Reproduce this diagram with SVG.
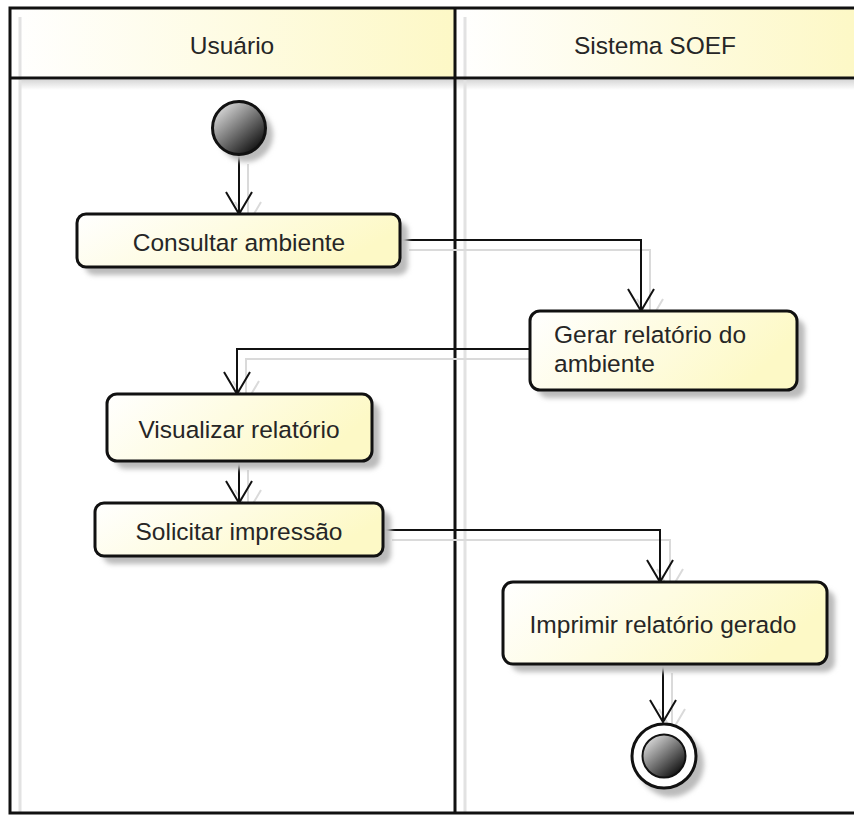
<svg xmlns="http://www.w3.org/2000/svg" width="854" height="818" viewBox="0 0 854 818">
<style>
.lbl{font-family:"Liberation Sans",Arial,sans-serif;font-size:24.5px;fill:#262626}
.box{stroke:#111;stroke-width:3;fill:url(#boxg)}
.shadow{fill:#bbb;filter:url(#blur)}
.edge{fill:none;stroke:#111;stroke-width:2;marker-end:url(#arr)}
.edgesh{fill:none;stroke:#dadada;stroke-width:2;marker-end:url(#arrsh)}
.frame{stroke:#111;stroke-width:3;fill:none}
.lanesh{stroke:#e2e2e2;stroke-width:3;fill:none}
</style>
<defs>
<linearGradient id="boxg" x1="0" y1="0" x2="1" y2="0.3">
<stop offset="0" stop-color="#ffffff"/>
<stop offset="1" stop-color="#fdf9c6"/>
</linearGradient>
<linearGradient id="hdg" x1="0" y1="0" x2="1" y2="0">
<stop offset="0" stop-color="#ffffff"/>
<stop offset="1" stop-color="#fdf8c6"/>
</linearGradient>
<linearGradient id="hsh" x1="0" y1="0" x2="0" y2="1">
<stop offset="0" stop-color="#d8d8d8"/>
<stop offset="1" stop-color="#ffffff"/>
</linearGradient>
<linearGradient id="ball" x1="0.15" y1="0.1" x2="0.85" y2="0.9">
<stop offset="0" stop-color="#d8d8d8"/>
<stop offset="1" stop-color="#111111"/>
</linearGradient>
<filter id="blur" x="-20%" y="-20%" width="140%" height="140%">
<feGaussianBlur stdDeviation="2.5"/>
</filter>
<marker id="arr" viewBox="-25 -15 28 30" markerWidth="28" markerHeight="30" refX="0" refY="0" orient="auto" markerUnits="userSpaceOnUse">
<path d="M-22,-13 L0,0 L-22,13" fill="none" stroke="#111" stroke-width="2"/>
</marker>
<marker id="arrsh" viewBox="-25 -15 28 30" markerWidth="28" markerHeight="30" refX="0" refY="0" orient="auto" markerUnits="userSpaceOnUse">
<path d="M-22,-13 L0,0 L-22,13" fill="none" stroke="#dadada" stroke-width="2"/>
</marker>
</defs>
<rect x="0" y="0" width="854" height="818" fill="#ffffff"/>

<g id="lanes">
<rect x="10" y="8" width="445" height="70" fill="url(#hdg)"/>
<rect x="455" y="8" width="400" height="70" fill="url(#hdg)"/>
<rect x="20" y="80" width="834" height="10" fill="url(#hsh)"/>
<line class="lanesh" x1="20" y1="17" x2="20" y2="812"/>
<line class="lanesh" x1="465" y1="17" x2="465" y2="812"/>
<polyline class="frame" points="856,8 10,8 10,813 856,813"/>
<line class="frame" x1="10" y1="78" x2="856" y2="78"/>
<line class="frame" x1="455" y1="8" x2="455" y2="813"/>
<text class="lbl" x="232" y="54" text-anchor="middle">Usuário</text>
<text class="lbl" x="655" y="54" text-anchor="middle">Sistema SOEF</text>
</g>

<g id="connectors">
<path class="edgesh" d="M248,164 V224"/>
<path class="edgesh" d="M409,250 H650 V321"/>
<path class="edgesh" d="M539,359 H246 V403"/>
<path class="edgesh" d="M248,470 V512"/>
<path class="edgesh" d="M392,540 H670 V591"/>
<path class="edgesh" d="M672,673 V731"/>
<path class="edge" d="M239,155 V214"/>
<path class="edge" d="M400,240 H641 V311"/>
<path class="edge" d="M530,349 H237 V394"/>
<path class="edge" d="M239,461 V503"/>
<path class="edge" d="M383,530 H660 V582"/>
<path class="edge" d="M663,664 V722"/>
</g>

<g id="start">
<circle class="shadow" cx="246" cy="135" r="27"/>
<circle cx="239" cy="128" r="26.5" fill="url(#ball)" stroke="#111" stroke-width="3"/>
</g>

<g id="consultar">
<rect class="shadow" x="85" y="222" width="323" height="53" rx="9"/>
<rect class="box" x="77" y="214" width="323" height="53" rx="9"/>
<text class="lbl" x="239" y="251" text-anchor="middle">Consultar ambiente</text>
</g>

<g id="gerar">
<rect class="shadow" x="538" y="319" width="267" height="79" rx="10"/>
<rect class="box" x="530" y="311" width="267" height="79" rx="10"/>
<text class="lbl" x="554" y="343">Gerar relatório do</text>
<text class="lbl" x="554" y="372">ambiente</text>
</g>

<g id="visualizar">
<rect class="shadow" x="115" y="402" width="265" height="67" rx="10"/>
<rect class="box" x="107" y="394" width="265" height="67" rx="10"/>
<text class="lbl" x="239" y="438" text-anchor="middle">Visualizar relatório</text>
</g>

<g id="solicitar">
<rect class="shadow" x="103" y="511" width="288" height="53" rx="9"/>
<rect class="box" x="95" y="503" width="288" height="53" rx="9"/>
<text class="lbl" x="239" y="540" text-anchor="middle">Solicitar impressão</text>
</g>

<g id="imprimir">
<rect class="shadow" x="511" y="590" width="324" height="82" rx="10"/>
<rect class="box" x="503" y="582" width="324" height="82" rx="10"/>
<text class="lbl" x="663" y="633" text-anchor="middle">Imprimir relatório gerado</text>
</g>

<g id="end">
<circle class="shadow" cx="671" cy="764" r="33"/>
<circle cx="664" cy="756" r="32" fill="#ffffff" stroke="#111" stroke-width="3"/>
<circle cx="664" cy="756" r="21.5" fill="url(#ball)" stroke="#111" stroke-width="2"/>
</g>
</svg>
